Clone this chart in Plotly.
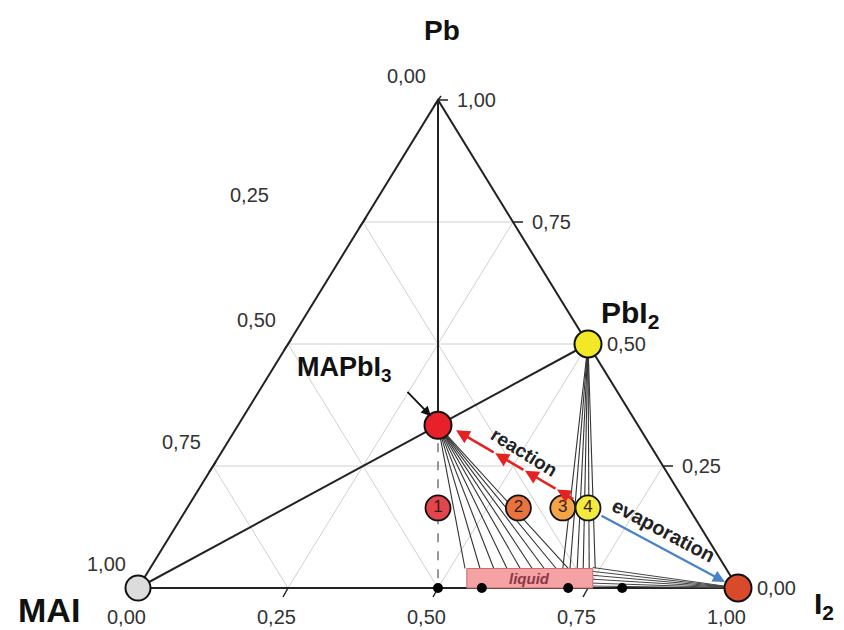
import plotly.graph_objects as go

# ---------------- data (compositions as MAI, Pb, I2 fractions) ----------------
tick_values = [0.0, 0.25, 0.5, 0.75, 1.0]
grid_values = [0.25, 0.5, 0.75]

phase_names = ["MAI", "I<sub>2</sub>", "PbI<sub>2</sub>", "MAPbI<sub>3</sub>"]
phase_mai = [1.0, 0.0, 0.0, 1 / 3]
phase_pb = [0.0, 0.0, 0.5, 1 / 3]
phase_i2 = [0.0, 1.0, 0.5, 1 / 3]
phase_colors = ["#dcdcdc", "#d84a2a", "#f3e826", "#e8202a"]

sample_labels = ["1", "2", "3", "4"]
sample_pb = [0.164, 0.164, 0.164, 0.164]
sample_i2 = [0.418, 0.552, 0.626, 0.668]
sample_colors = ["#e2454c", "#e9733f", "#f1a546", "#f2ea3c"]

liquid_pb_top = 0.040
liquid_i2_range = [0.548, 0.758]
mapbi3_tie_i2 = [0.525, 0.550, 0.573, 0.595, 0.617, 0.637, 0.657, 0.677, 0.697]
pbi2_tie_i2 = [0.688, 0.700, 0.712, 0.722, 0.732, 0.742]
i2_tie_pb = [0.042, 0.034, 0.026, 0.018, 0.010, 0.004]
i2_tie_x = 0.758
bottom_dots_i2 = [0.500, 0.573, 0.717, 0.807]

FONT = "Liberation Sans, Arial, sans-serif"


def xy(mai, pb, i2):
    s = mai + pb + i2
    return (i2 + pb / 2) / s, pb / s


fig = go.Figure()


def seg(p, q, color="#222", width=1.0, dash="solid"):
    fig.add_trace(go.Scatter(x=[p[0], q[0]], y=[p[1], q[1]], mode="lines",
                             line=dict(color=color, width=width, dash=dash),
                             hoverinfo="skip", showlegend=False))


# grid
for v in grid_values:
    seg(xy(1 - v, v, 0), xy(0, v, 1 - v), "#d0d0d0", 1)           # Pb = v
    seg(xy(1 - v, 0, v), xy(0, 1 - v, v), "#d0d0d0", 1)           # I2 = v
    seg(xy(v, 0, 1 - v), xy(v, 1 - v, 0), "#d0d0d0", 1)           # MAI = v

MAI = xy(1, 0, 0)
PB = xy(0, 1, 0)
I2 = xy(0, 0, 1)
PBI2 = xy(phase_mai[2], phase_pb[2], phase_i2[2])
MAPBI3 = xy(phase_mai[3], phase_pb[3], phase_i2[3])

# triangle edges
fig.add_trace(go.Scatter(x=[MAI[0], PB[0], I2[0], MAI[0]], y=[MAI[1], PB[1], I2[1], MAI[1]],
                         mode="lines", line=dict(color="#222", width=2),
                         hoverinfo="skip", showlegend=False))

# ticks (pixel-length offsets converted to data units)
PXX = 1 / 600.0
PXY = 1 / 488.0
for v in tick_values:
    p = xy(0, v, 1 - v)                      # right edge (Pb value)
    seg(p, (p[0] + 10 * PXX, p[1]), "#222", 1.5)
    p = xy(v, 1 - v, 0)                      # left edge (MAI value)
    seg((p[0] + 3 * PXX, p[1] + 4 * PXY), (p[0] - 4 * PXX, p[1] - 6 * PXY), "#222", 1.5)
    p = xy(1 - v, 0, v)                      # bottom edge (I2 value)
    seg(p, (p[0] - 5 * PXX, p[1] - 9 * PXY), "#222", 1.5)

# tie lines
seg(MAI, PBI2, "#222", 2)
seg(PB, MAPBI3, "#222", 2)
seg(MAPBI3, xy(0.5, 0, 0.5), "#777", 1.5, "dash")
for i in mapbi3_tie_i2:
    seg(MAPBI3, xy(1 - liquid_pb_top - i, liquid_pb_top, i), "#333", 1.1)
for i in pbi2_tie_i2:
    seg(PBI2, xy(1 - liquid_pb_top - i, liquid_pb_top, i), "#333", 1.1)
for p in i2_tie_pb:
    seg(I2, (i2_tie_x, p), "#444", 1.0)

# liquid box
lx0, lx1 = liquid_i2_range
box_pts = [xy(1 - lx0, 0, lx0), xy(1 - lx1, 0, lx1),
           (xy(1 - lx1, 0, lx1)[0], liquid_pb_top), (xy(1 - lx0, 0, lx0)[0], liquid_pb_top)]
fig.add_trace(go.Scatter(x=[p[0] for p in box_pts] + [box_pts[0][0]],
                         y=[p[1] for p in box_pts] + [box_pts[0][1]],
                         mode="lines", fill="toself", fillcolor="#f4a2a4",
                         line=dict(color="#c86a70", width=1),
                         hoverinfo="skip", showlegend=False))

# bottom dots
bd = [xy(1 - i, 0, i) for i in bottom_dots_i2]
fig.add_trace(go.Scatter(x=[p[0] for p in bd], y=[p[1] for p in bd], mode="markers",
                         marker=dict(color="#000", size=10, opacity=1),
                         hoverinfo="skip", showlegend=False))

# phase circles
ph = [xy(a, b, c) for a, b, c in zip(phase_mai, phase_pb, phase_i2)]
fig.add_trace(go.Scatter(x=[p[0] for p in ph], y=[p[1] for p in ph], mode="markers",
                         marker=dict(color=phase_colors, size=[25, 27, 27, 27], opacity=1,
                                     line=dict(color="#111", width=2)),
                         hoverinfo="skip", showlegend=False))

# samples
sp = [xy(1 - b - c, b, c) for b, c in zip(sample_pb, sample_i2)]
fig.add_trace(go.Scatter(x=[p[0] for p in sp], y=[p[1] for p in sp], mode="markers+text",
                         text=sample_labels, textposition="middle center",
                         textfont=dict(family=FONT, size=17, color="#3a1a1a"),
                         marker=dict(color=sample_colors, size=25, opacity=1,
                                     line=dict(color="#111", width=1.8)),
                         hoverinfo="skip", showlegend=False))

ann = []

# reaction arrows (chain with several heads)
P3 = sp[2]
S = (P3[0] + 12 * PXX, P3[1] + 8 * PXY)
E = (MAPBI3[0] + 18 * PXX, MAPBI3[1] - 5 * PXY)
prev = S
for t in [0.15, 0.42, 0.67, 1.0]:
    h = (S[0] + t * (E[0] - S[0]), S[1] + t * (E[1] - S[1]))
    ann.append(dict(x=h[0], y=h[1], ax=prev[0], ay=prev[1], xref="x", yref="y",
                    axref="x", ayref="y", showarrow=True, arrowhead=2, arrowsize=1.1,
                    arrowwidth=2.5, arrowcolor="#e52222", standoff=0, text=""))
    prev = h

# evaporation arrow
P4 = sp[3]
ann.append(dict(x=I2[0] - 13 * PXX, y=I2[1] + 6 * PXY,
                ax=P4[0] + 12 * PXX, ay=P4[1] - 7 * PXY,
                xref="x", yref="y", axref="x", ayref="y", showarrow=True,
                arrowhead=2, arrowsize=1.1, arrowwidth=2.2, arrowcolor="#4a82c6",
                standoff=0, text=""))

# MAPbI3 pointer arrow
ann.append(dict(x=MAPBI3[0], y=MAPBI3[1], xshift=-7, yshift=9, ax=-25, ay=-26,
                showarrow=True, arrowhead=2, arrowsize=1.1, arrowwidth=1.8,
                arrowcolor="#111", standoff=0, text=""))

# rotated labels
mid_r = ((P3[0] + MAPBI3[0]) / 2, (P3[1] + MAPBI3[1]) / 2)
ann.append(dict(x=mid_r[0], y=mid_r[1], xshift=24, yshift=14, text="<b>reaction</b>",
                textangle=32, showarrow=False,
                font=dict(family=FONT, size=19, color="#222")))
mid_e = ((P4[0] + I2[0]) / 2, (P4[1] + I2[1]) / 2)
ann.append(dict(x=mid_e[0], y=mid_e[1], xshift=0, yshift=18, text="<b>evaporation</b>",
                textangle=28, showarrow=False,
                font=dict(family=FONT, size=20, color="#222")))

# liquid label
ann.append(dict(x=(box_pts[0][0] + box_pts[1][0]) / 2, y=liquid_pb_top / 2,
                text="<b><i>liquid</i></b>", showarrow=False,
                font=dict(family=FONT, size=15, color="#8a3844")))

# vertex / phase labels
ann.append(dict(x=PB[0], y=PB[1], yshift=70, xshift=4, text="<b>Pb</b>", showarrow=False,
                font=dict(family=FONT, size=28, color="#111")))
ann.append(dict(x=MAI[0], y=MAI[1], xshift=-56, yshift=-22, xanchor="right",
                text="<b>MAI</b>", showarrow=False,
                font=dict(family=FONT, size=34, color="#111")))
ann.append(dict(x=I2[0], y=I2[1], xshift=74, yshift=-17, xanchor="left",
                text="<b>I<sub>2</sub></b>", showarrow=False,
                font=dict(family=FONT, size=30, color="#111")))
ann.append(dict(x=PBI2[0], y=PBI2[1], xshift=42, yshift=30,
                text="<b>PbI<sub>2</sub></b>", showarrow=False,
                font=dict(family=FONT, size=30, color="#111")))
ann.append(dict(x=MAPBI3[0], y=MAPBI3[1], xshift=-94, yshift=56,
                text="<b>MAPbI<sub>3</sub></b>", showarrow=False,
                font=dict(family=FONT, size=27, color="#111")))


def fmt(v):
    return f"{v:.2f}".replace(".", ",")


tf = dict(family=FONT, size=20, color="#333")
for v in tick_values:
    p = xy(0, v, 1 - v)
    ann.append(dict(x=p[0], y=p[1], xanchor="left", xshift=17, text=fmt(v),
                    showarrow=False, font=tf))
    p = xy(v, 1 - v, 0)
    if v == 0.25:
        ann.append(dict(x=p[0], y=p[1], xanchor="right", xshift=-92, yshift=27,
                        text=fmt(v), showarrow=False, font=tf))
    else:
        ann.append(dict(x=p[0], y=p[1], xanchor="right", xshift=-10, yshift=24,
                        text=fmt(v), showarrow=False, font=tf))
    p = xy(1 - v, 0, v)
    ann.append(dict(x=p[0], y=p[1], xshift=-12, yshift=-29, text=fmt(v),
                    showarrow=False, font=tf))

fig.update_layout(
    width=844, height=630, margin=dict(l=0, r=0, t=0, b=0),
    paper_bgcolor="white", plot_bgcolor="white",
    xaxis=dict(range=[-138 / 600, (844 - 138) / 600], visible=False, fixedrange=True),
    yaxis=dict(range=[(588 - 630) / 488, 588 / 488], visible=False, fixedrange=True),
    annotations=ann, showlegend=False,
)

fig.write_html("out.html")
